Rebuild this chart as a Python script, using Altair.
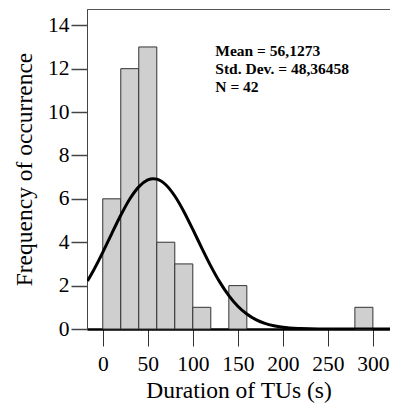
import altair as alt
import pandas as pd

# Histogram bins (s) and counts
bin_start = [0, 20, 40, 60, 80, 100, 120, 140, 160, 180, 200, 220, 240, 260, 280]
bin_end = [20, 40, 60, 80, 100, 120, 140, 160, 180, 200, 220, 240, 260, 280, 300]
counts = [6, 12, 13, 4, 3, 1, 0, 2, 0, 0, 0, 0, 0, 0, 1]

# Fitted normal curve
curve_x = [-17, -10, 0, 10, 20, 30, 40, 50, 56, 60, 70, 80, 90, 100, 110, 120,
           130, 140, 150, 160, 170, 180, 190, 200, 220, 240, 260, 280, 300, 320]
curve_y = [2.21, 2.72, 3.53, 4.40, 5.24, 5.99, 6.55, 6.87, 6.93, 6.91, 6.65, 6.13,
           5.42, 4.59, 3.73, 2.90, 2.16, 1.54, 1.05, 0.69, 0.43, 0.26, 0.15, 0.08,
           0.02, 0.0, 0.0, 0.0, 0.0, 0.0]

stats_text = ["Mean = 56,1273", "Std. Dev. = 48,36458", "N = 42"]
stats_x = [125]
stats_y = [13.15]

FONT = "Liberation Serif"

bars_df = pd.DataFrame({"start": bin_start, "end": bin_end, "count": counts})
bars_df = bars_df[bars_df["count"] > 0]
curve_df = pd.DataFrame({"x": curve_x, "y": curve_y})
text_df = pd.DataFrame({"x": stats_x, "y": stats_y, "t": [stats_text]})

xscale = alt.Scale(domain=[-17.5, 319], nice=False, zero=False)
yscale = alt.Scale(domain=[0, 14.75], nice=False)

bars = alt.Chart(bars_df).mark_bar(
    fill="#cfcfcf", stroke="#333333", strokeWidth=1
).encode(
    x=alt.X("start:Q", scale=xscale,
            axis=alt.Axis(values=[0, 50, 100, 150, 200, 250, 300], title="Duration of TUs (s)",
                          format="d", domainColor="black", domainWidth=2.5,
                          tickColor="#333333", tickSize=17, tickWidth=1,
                          labelPadding=7, titlePadding=4, grid=False,
                          labelFont=FONT, titleFont=FONT)),
    x2="end:Q",
    y=alt.Y("count:Q", scale=yscale,
            axis=alt.Axis(values=[0, 2, 4, 6, 8, 10, 12, 14], title="Frequency of occurrence",
                          format="d", domainColor="#444444", domainWidth=1,
                          tickColor="#444444", tickSize=16, tickWidth=1.5,
                          labelPadding=2, titlePadding=11, grid=False,
                          labelFont=FONT, titleFont=FONT)),
    y2=alt.datum(0),
)

curve = alt.Chart(curve_df).mark_line(
    color="black", strokeWidth=3, interpolate="monotone", clip=True
).encode(
    x=alt.X("x:Q", scale=xscale),
    y=alt.Y("y:Q", scale=yscale),
)

text = alt.Chart(text_df).mark_text(
    align="left", baseline="top", font=FONT, fontSize=15.5, fontWeight="bold",
    lineHeight=18, color="black"
).encode(
    x=alt.X("x:Q", scale=xscale),
    y=alt.Y("y:Q", scale=yscale),
    text="t",
)

chart = alt.layer(bars, curve, text).properties(
    width=303, height=320,
    autosize=alt.AutoSizeParams(type="none"),
    padding={"left": 79, "top": 1, "right": 0, "bottom": 74},
).configure(
    font=FONT
).configure_view(
    stroke="#555555", strokeWidth=1
).configure_axis(
    labelFont=FONT, titleFont=FONT, labelFontSize=21.5, titleFontSize=23.5,
    labelColor="black", titleColor="black", titleFontWeight="normal",
)

chart.save("out.html", embed_options={"renderer": "svg", "actions": False})
